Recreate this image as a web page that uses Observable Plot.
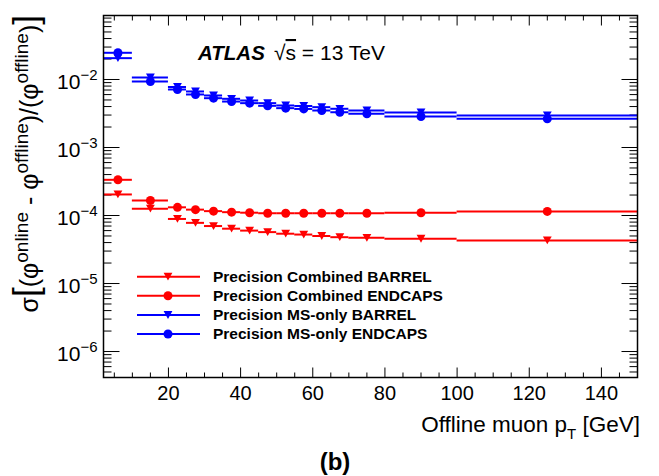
<!DOCTYPE html>
<html><head><meta charset="utf-8">
<script src="https://cdn.jsdelivr.net/npm/d3@7"></script>
<script src="https://cdn.jsdelivr.net/npm/@observablehq/plot@0.6"></script>
<style>
body{margin:0;background:#fff;}
#chart svg{display:block;}
</style></head><body><div id="chart"></div>
<script>
// ---- data ----
const binLo = [2,10,20,25,30,35,40,45,50,55,60,65,70,80,100];
const binHi = [10,20,25,30,35,40,45,50,55,60,65,70,80,100,150];
const binCenter = [6,15,22.5,27.5,32.5,37.5,42.5,47.5,52.5,57.5,62.5,67.5,75,90,125];
const combinedBarrel  = [2.04e-4,1.26e-4,8.9e-5,7.8e-5,7.0e-5,6.4e-5,6.0e-5,5.7e-5,5.4e-5,5.25e-5,5.0e-5,4.8e-5,4.7e-5,4.55e-5,4.3e-5];
const combinedEndcaps = [3.35e-4,1.66e-4,1.32e-4,1.22e-4,1.16e-4,1.12e-4,1.10e-4,1.08e-4,1.08e-4,1.08e-4,1.08e-4,1.08e-4,1.08e-4,1.10e-4,1.15e-4];
const msBarrel  = [0.0206,0.0107,0.00776,0.00667,0.00582,0.0052,0.00491,0.00449,0.00415,0.00408,0.00392,0.00371,0.0035,0.00327,0.00296];
const msEndcaps = [0.0247,0.00935,0.00713,0.00602,0.00531,0.00474,0.00449,0.0041,0.00379,0.00369,0.0035,0.0033,0.00313,0.00286,0.00264];
const seriesNames = ["Precision Combined BARREL","Precision Combined ENDCAPS","Precision MS-only BARREL","Precision MS-only ENDCAPS"];
const seriesValues = [combinedBarrel, combinedEndcaps, msBarrel, msEndcaps];
const seriesColors = ["#ff0000","#ff0000","#0000ff","#0000ff"];
const seriesMarkers = ["triangleDown","circle","triangleDown","circle"];
const xTicks = [20,40,60,80,100,120,140];
const xMinor = d3.range(5,150,5).filter(v => v % 20 !== 0);
const yTicks = [1e-6,1e-5,1e-4,1e-3,1e-2];
const yMinor = [];
for (let e = -7; e <= -2; e++) for (let k = 2; k <= 9; k++) { const v = k * Math.pow(10, e); if (v > 4.15e-7 && v < 0.0873) yMinor.push(v); }

// ---- symbols ----
const FONT = "'Liberation Sans', Arial, Helvetica, sans-serif";
const triDown = {draw(c){ const w = 4.4, h = 3.9; c.moveTo(0,h); c.lineTo(-w,-h); c.lineTo(w,-h); c.closePath(); }};
const tick = (dx, dy) => ({draw(c){ c.moveTo(0,0); c.lineTo(dx,dy); }});

const rows = [];
seriesNames.forEach((s, si) => seriesValues[si].forEach((v, i) => rows.push({series: s, si, lo: binLo[i], hi: binHi[i], c: binCenter[i], v})));

const marks = [];
const tk = {stroke: "black", fill: "none", strokeWidth: 1};
marks.push(
  Plot.dot(xTicks, {x: d => d, frameAnchor: "bottom", symbol: tick(0,-10), ...tk}),
  Plot.dot(xMinor, {x: d => d, frameAnchor: "bottom", symbol: tick(0,-5), ...tk}),
  Plot.dot(xTicks, {x: d => d, frameAnchor: "top", symbol: tick(0,10), ...tk}),
  Plot.dot(xMinor, {x: d => d, frameAnchor: "top", symbol: tick(0,5), ...tk}),
  Plot.dot(yTicks, {y: d => d, frameAnchor: "left", symbol: tick(16,0), ...tk}),
  Plot.dot(yMinor, {y: d => d, frameAnchor: "left", symbol: tick(8,0), ...tk}),
  Plot.dot(yTicks, {y: d => d, frameAnchor: "right", symbol: tick(-16,0), ...tk}),
  Plot.dot(yMinor, {y: d => d, frameAnchor: "right", symbol: tick(-8,0), ...tk})
);
seriesNames.forEach((s, si) => {
  const d = rows.filter(r => r.si === si);
  marks.push(Plot.ruleY(d, {y: "v", x1: "lo", x2: "hi", stroke: seriesColors[si], strokeWidth: 2}));
  marks.push(Plot.dot(d, {x: "c", y: "v", symbol: seriesMarkers[si] === "circle" ? "circle" : triDown, r: 4.5, fill: seriesColors[si], stroke: "none"}));
});
marks.push(Plot.frame({stroke: "black", strokeWidth: 1.5}));
marks.push(Plot.axisX({ticks: xTicks, tickSize: 0, tickPadding: 8, fontSize: 20, label: null}));
marks.push(Plot.axisY({ticks: yTicks, tickSize: 0, tickPadding: 6, fontSize: 21, dy: 3, label: null, tickFormat: d => "10^" + Math.round(Math.log10(d))}));

const chart = Plot.plot({
  width: 659, height: 476,
  marginLeft: 103, marginRight: 22, marginTop: 15, marginBottom: 99,
  style: {fontFamily: FONT, fontSize: "20px", color: "black", background: "white"},
  x: {domain: [2,150]},
  y: {type: "log", domain: [4.15e-7, 0.0873]},
  marks
});
document.getElementById("chart").append(chart);

const svg = d3.select(chart);
svg.selectAll('g[aria-label="y-axis tick label"] text').each(function(){
  const t = d3.select(this); const s = t.text(); const [b, e] = s.split("^");
  t.text(null);
  t.append("tspan").text(b);
  t.append("tspan").attr("dy", -9).attr("font-size", 15).text(e.replace("-", "\u2212"));
});

const txt = (x, y, anchor) => svg.append("text").attr("x", x).attr("y", y).attr("text-anchor", anchor)
  .attr("font-family", FONT).attr("fill", "black");

// y-axis title
const yt = svg.append("text").attr("transform", "translate(38,15) rotate(-90)").attr("text-anchor", "end")
  .attr("font-family", FONT).attr("font-size", 25).attr("fill", "black");
const parts = [["σ",0,25],["[",0,35],["(φ",0,25],["online",-10,19],[" - φ",10,25],["offline",-10,19],[")/(φ",10,25],["offline",-10,19],[")",10,25],["]",0,35]];
parts.forEach(([t, dy, fs]) => yt.append("tspan").attr("dy", dy).attr("font-size", fs).text(t));

// x-axis title
const xt = txt(640, 432, "end").attr("font-size", 22.5);
xt.append("tspan").text("Offline muon p");
xt.append("tspan").attr("dy", 7).attr("font-size", 15).text("T");
xt.append("tspan").attr("dy", -7).text(" [GeV]");

// (b)
txt(335, 470, "middle").attr("font-size", 24).attr("font-weight", "bold").text("(b)");

// ATLAS label
txt(198, 60, "start").attr("font-size", 20.5).attr("font-weight", "bold").attr("font-style", "italic").text("ATLAS");
const en = txt(274, 60, "start").attr("font-size", 21);
en.append("tspan").text("√");
en.append("tspan").attr("text-decoration", "overline").text("s");
en.append("tspan").text(" = 13 TeV");

// legend
const legY = [276.7, 295.7, 315, 334];
seriesNames.forEach((s, si) => {
  const g = svg.append("g").attr("transform", `translate(0,${legY[si]})`);
  g.append("line").attr("x1", 137).attr("x2", 200).attr("stroke", seriesColors[si]).attr("stroke-width", 2);
  if (seriesMarkers[si] === "circle") g.append("circle").attr("cx", 168).attr("r", 4.5).attr("fill", seriesColors[si]);
  else g.append("path").attr("transform", "translate(168,0)").attr("d", "M0,3.9L-4.4,-3.9L4.4,-3.9Z").attr("fill", seriesColors[si]);
  g.append("text").attr("x", 213).attr("y", 5.3).attr("text-anchor", "start").attr("font-family", FONT).attr("font-size", 15.5)
    .attr("font-weight", "bold").attr("fill", "black").text(s);
});
</script></body></html>
